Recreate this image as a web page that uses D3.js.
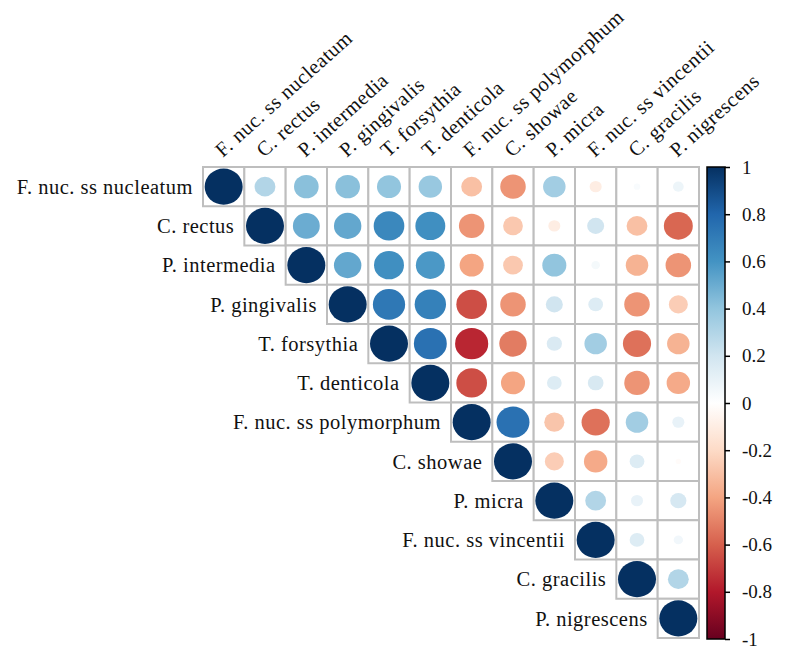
<!DOCTYPE html>
<html>
<head>
<meta charset="utf-8">
<script src="https://cdn.jsdelivr.net/npm/d3@7"></script>
<style>
html,body{margin:0;padding:0;background:#fff;}
svg{display:block;}
text{font-family:"Liberation Serif","DejaVu Serif",serif;fill:#111;}
</style>
</head>
<body>
<svg id="chart" width="789" height="656"></svg>
<script>
const species = ["F. nuc. ss nucleatum","C. rectus","P. intermedia","P. gingivalis","T. forsythia","T. denticola","F. nuc. ss polymorphum","C. showae","P. micra","F. nuc. ss vincentii","C. gracilis","P. nigrescens"];

// upper-triangle rows (from diagonal to the right)
const rowNucleatum   = [1, 0.30, 0.42, 0.42, 0.40, 0.38, -0.30, -0.45, 0.35, -0.10, 0.03, 0.08];
const rowRectus      = [1, 0.50, 0.52, 0.65, 0.62, -0.45, -0.27, -0.10, 0.20, -0.30, -0.58];
const rowIntermedia  = [1, 0.52, 0.62, 0.58, -0.40, -0.27, 0.40, 0.05, -0.35, -0.45];
const rowGingivalis  = [1, 0.72, 0.68, -0.65, -0.45, 0.20, 0.15, -0.45, -0.25];
const rowForsythia   = [1, 0.75, -0.76, -0.52, 0.16, 0.35, -0.55, -0.35];
const rowDenticola   = [1, -0.65, -0.40, 0.15, 0.17, -0.45, -0.38];
const rowPolymorphum = [1, 0.75, -0.28, -0.55, 0.35, 0.10];
const rowShowae      = [1, -0.25, -0.38, 0.15, -0.02];
const rowMicra       = [1, 0.30, 0.10, 0.18];
const rowVincentii   = [1, 0.15, 0.06];
const rowGracilis    = [1, 0.30];
const rowNigrescens  = [1];
const rows = [rowNucleatum,rowRectus,rowIntermedia,rowGingivalis,rowForsythia,rowDenticola,rowPolymorphum,rowShowae,rowMicra,rowVincentii,rowGracilis,rowNigrescens];

const legendTicks = [1,0.8,0.6,0.4,0.2,0,-0.2,-0.4,-0.6,-0.8,-1];
const paletteColors = ["#67001F","#B2182B","#D6604D","#F4A582","#FDDBC7","#FFFFFF","#D1E5F0","#92C5DE","#4393C3","#2166AC","#053061"];

const svg = d3.select("#chart");
const n = species.length;
const x = d3.scaleBand().domain(d3.range(n)).range([203, 699]).padding(0);
const y = d3.scaleBand().domain(d3.range(n)).range([167, 638]).padding(0);
const color = d3.scaleLinear().domain(d3.range(11).map(i => -1 + i*0.2)).range(paletteColors).interpolate(d3.interpolateRgb);

const cells = [];
rows.forEach((r, i) => r.forEach((v, k) => cells.push({i, j: i + k, v})));

// grid
svg.append("g").selectAll("rect").data(cells).join("rect")
  .attr("x", d => x(d.j)).attr("y", d => y(d.i))
  .attr("width", x.bandwidth()).attr("height", y.bandwidth())
  .attr("fill", "#fff").attr("stroke", "#bebebe").attr("stroke-width", 2);

// circles
svg.append("g").selectAll("ellipse").data(cells).join("ellipse")
  .attr("cx", d => x(d.j) + x.bandwidth()/2)
  .attr("cy", d => y(d.i) + y.bandwidth()/2)
  .attr("rx", d => 0.46 * x.bandwidth() * Math.sqrt(Math.abs(d.v)))
  .attr("ry", d => 0.46 * y.bandwidth() * Math.sqrt(Math.abs(d.v)))
  .attr("fill", d => color(d.v));

// row labels
svg.append("g").selectAll("text").data(species).join("text")
  .attr("x", (d, i) => x(i) - 10)
  .attr("y", (d, i) => y(i) + y.bandwidth()/2)
  .attr("dy", "0.35em")
  .attr("text-anchor", "end")
  .attr("font-size", 20.5)
  .attr("letter-spacing", 0.5)
  .text(d => d);

// column labels
svg.append("g").selectAll("text").data(species).join("text")
  .attr("transform", (d, i) => `translate(${x(i) + x.bandwidth()/2 - 1},${y(0) - 9}) rotate(-42)`)
  .attr("font-size", 20.5)
  .attr("letter-spacing", 0.5)
  .text(d => d);

// colorbar
const cb = {x: 707, w: 18, top: 167, bottom: 639};
const cy = d3.scaleLinear().domain([-1, 1]).range([cb.bottom, cb.top]);
const defs = svg.append("defs");
const grad = defs.append("linearGradient").attr("id", "cbgrad")
  .attr("x1", 0).attr("y1", 1).attr("x2", 0).attr("y2", 0);
paletteColors.forEach((c, i) => grad.append("stop").attr("offset", i/10).attr("stop-color", c));
svg.append("rect").attr("x", cb.x).attr("y", cb.top).attr("width", cb.w).attr("height", cb.bottom - cb.top)
  .attr("fill", "url(#cbgrad)").attr("stroke", "#000").attr("stroke-width", 1.5);

const axis = d3.axisRight(cy).tickValues(legendTicks).tickSize(5).tickPadding(12)
  .tickFormat(d => d === 0 ? "0" : String(d).replace("\u2212", "-"));
const ag = svg.append("g").attr("transform", `translate(${cb.x + cb.w},0)`).call(axis);
ag.select(".domain").remove();
ag.selectAll(".tick line").attr("stroke", "#000").attr("stroke-width", 1.5);
ag.selectAll(".tick text").attr("font-size", 19).attr("fill", "#111")
  .attr("font-family", "Liberation Serif, DejaVu Serif, serif");
</script>
</body>
</html>
